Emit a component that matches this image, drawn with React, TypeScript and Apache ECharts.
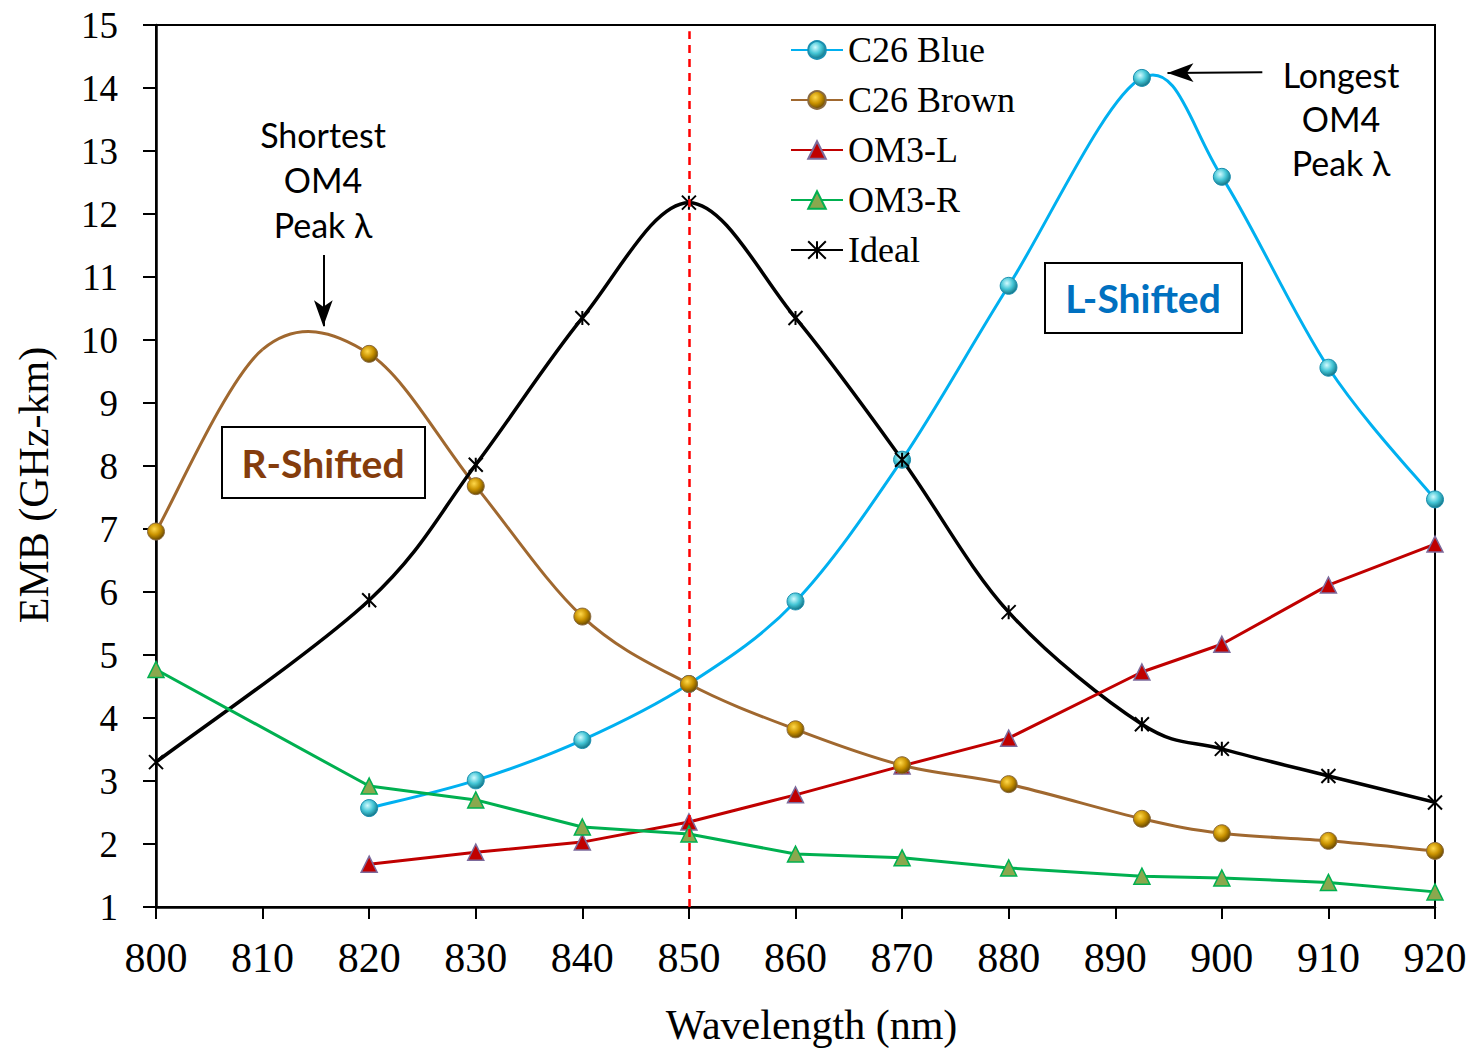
import React, { useEffect, useRef } from "react";
import * as echarts from "echarts";

// ---- data ----
const wavelengths = [800, 820, 830, 840, 850, 860, 870, 880, 892.5, 900, 910, 920];
const c26Blue = [null, 2.57, 3.01, 3.65, 4.54, 5.85, 8.1, 10.86, 14.16, 12.59, 9.56, 7.47];
const c26Brown = [6.96, 9.78, 7.68, 5.61, 4.54, 3.82, 3.25, 2.95, 2.4, 2.17, 2.05, 1.89];
const brownHiddenPoint = [810, 9.85];
const om3L = [null, 1.68, 1.87, 2.03, 2.35, 2.78, 3.24, 3.68, 4.73, 5.17, 6.11, 6.76];
const om3R = [4.77, 2.92, 2.7, 2.27, 2.16, 1.84, 1.78, 1.62, 1.49, 1.46, 1.39, 1.24];
const ideal = [3.3, 5.87, 8.02, 10.35, 12.18, 10.35, 8.1, 5.68, 3.9, 3.51, 3.08, 2.66];
const seriesNames = ["C26 Blue", "C26 Brown", "OM3-L", "OM3-R", "Ideal"];
const referenceWavelength = 850;
const shortestArrow = [[815.7, 11.35], [815.7, 10.22]];
const longestArrow = [[903.8, 14.25], [894.9, 14.24]];

const pairs = (vals: (number | null)[]) =>
  wavelengths.map((w, i) => [w, vals[i]]).filter((p) => p[1] !== null) as number[][];

const serif = "Liberation Serif";
const sans = "Lato";

const blueColor = "#00B0F0";
const brownColor = "#A0682F";
const idealColor = "#000000";

const sphere = (light: string, mid: string, dark: string) => ({
  type: "radial",
  x: 0.4,
  y: 0.35,
  r: 0.7,
  colorStops: [
    { offset: 0, color: light },
    { offset: 0.5, color: mid },
    { offset: 1, color: dark },
  ],
});

// Spreadsheet-style smoothed curve (Catmull-Rom as cubic Beziers) drawn through
// the data via the chart's own coordinate system.
const smoothCurve = (id: string, points: number[][], color: string, width: number, z: number) => ({
  id,
  type: "custom",
  silent: true,
  z,
  clip: true,
  data: points,
  renderItem: (params: any, api: any) => {
    if (params.dataIndex !== 0) return null;
    const pts = points.map((p) => api.coord(p));
    const n = pts.length;
    const children: any[] = [];
    for (let i = 0; i < n - 1; i++) {
      const p0 = pts[Math.max(i - 1, 0)];
      const p1 = pts[i];
      const p2 = pts[i + 1];
      const p3 = pts[Math.min(i + 2, n - 1)];
      children.push({
        type: "bezierCurve",
        shape: {
          x1: p1[0],
          y1: p1[1],
          x2: p2[0],
          y2: p2[1],
          cpx1: p1[0] + (p2[0] - p0[0]) / 6,
          cpy1: p1[1] + (p2[1] - p0[1]) / 6,
          cpx2: p2[0] - (p3[0] - p1[0]) / 6,
          cpy2: p2[1] - (p3[1] - p1[1]) / 6,
        },
        style: { stroke: color, lineWidth: width, fill: null },
      });
    }
    return { type: "group", children };
  },
});

export default function App() {
  const ref = useRef<HTMLDivElement>(null);
  useEffect(() => {
    if (!ref.current) return;
    const chart = echarts.init(ref.current, undefined, { renderer: "svg" });

    const bluePts = pairs(c26Blue);
    const brownPts = pairs(c26Brown);
    const brownCurvePts = [brownPts[0], brownHiddenPoint, ...brownPts.slice(1)];
    const idealPts = pairs(ideal);

    const option: any = {
      animation: false,
      backgroundColor: "#fff",
      grid: {
        left: 156,
        right: 38,
        top: 25,
        bottom: 143,
        show: true,
        borderColor: "#000",
        borderWidth: 2,
      },
      legend: {
        orient: "vertical",
        left: 785,
        top: 27,
        itemWidth: 52,
        itemHeight: 22,
        itemGap: 14,
        data: seriesNames,
        selectedMode: false,
        lineStyle: { opacity: 1 },
        textStyle: {
          fontFamily: serif,
          fontSize: 36,
          lineHeight: 36,
          color: "#000",
        },
      },
      xAxis: {
        type: "value",
        min: 800,
        max: 920,
        interval: 10,
        name: "Wavelength (nm)",
        nameLocation: "middle",
        nameGap: 97,
        nameTextStyle: {
          fontFamily: serif,
          fontSize: 42,
          color: "#000",
          padding: [0, 0, 0, 32],
        },
        axisLine: { lineStyle: { color: "#000", width: 2.5 } },
        axisTick: { show: true, length: 12, lineStyle: { color: "#000", width: 2 } },
        axisLabel: { fontFamily: serif, fontSize: 42, color: "#000", margin: 30 },
        splitLine: { show: false },
      },
      yAxis: {
        type: "value",
        min: 1,
        max: 15,
        interval: 1,
        name: "EMB (GHz-km)",
        nameLocation: "middle",
        nameGap: 101,
        nameTextStyle: {
          fontFamily: serif,
          fontSize: 42,
          color: "#000",
          padding: [0, 38, 0, 0],
        },
        axisLine: { lineStyle: { color: "#000", width: 2.5 } },
        axisTick: { show: true, length: 13, lineStyle: { color: "#000", width: 2 } },
        axisLabel: { fontFamily: serif, fontSize: 37, color: "#000", margin: 38 },
        splitLine: { show: false },
      },
      series: [
        smoothCurve("blueCurve", bluePts, blueColor, 3, 2),
        smoothCurve("brownCurve", brownCurvePts, brownColor, 3, 2),
        smoothCurve("idealCurve", idealPts, idealColor, 3.5, 2),
        {
          name: seriesNames[0],
          type: "line",
          data: bluePts,
          symbol: "circle",
          symbolSize: 17,
          silent: true,
          lineStyle: { color: blueColor, width: 3, opacity: 0 },
          itemStyle: {
            color: sphere("#D2FBFF", "#45C6D6", "#0C6A7C"),
            borderColor: "#1B8FB0",
            borderWidth: 1,
          },
          z: 4,
        },
        {
          name: seriesNames[1],
          type: "line",
          data: brownPts,
          symbol: "circle",
          symbolSize: 17,
          silent: true,
          lineStyle: { color: brownColor, width: 3, opacity: 0 },
          itemStyle: {
            color: sphere("#FFD84A", "#C99200", "#5E4000"),
            borderColor: "#8A6A40",
            borderWidth: 1,
          },
          z: 5,
          markLine: {
            silent: true,
            symbol: ["none", "arrow"],
            symbolSize: [14, 26],
            label: { show: false },
            lineStyle: { color: "#000", width: 2, type: "solid", opacity: 1 },
            data: [
              [{ coord: shortestArrow[0] }, { coord: shortestArrow[1] }],
              [{ coord: longestArrow[0] }, { coord: longestArrow[1] }],
            ],
          },
        },
        {
          name: seriesNames[2],
          type: "line",
          data: pairs(om3L),
          smooth: false,
          symbol: "triangle",
          symbolSize: 16,
          silent: true,
          lineStyle: { color: "#C00000", width: 3 },
          itemStyle: { color: "#C00000", borderColor: "#7C6A9C", borderWidth: 1.5 },
          z: 3,
        },
        {
          name: seriesNames[3],
          type: "line",
          data: pairs(om3R),
          smooth: false,
          symbol: "triangle",
          symbolSize: 16,
          silent: true,
          lineStyle: { color: "#00B050", width: 3 },
          itemStyle: { color: "#8AA84E", borderColor: "#00B050", borderWidth: 1.5 },
          z: 3,
        },
        {
          name: seriesNames[4],
          type: "line",
          data: idealPts,
          symbol: "path://M0 0L20 20M20 0L0 20M10 0L10 20",
          symbolSize: 14,
          silent: true,
          lineStyle: { color: idealColor, width: 3.5, opacity: 0 },
          itemStyle: { color: "#000", borderColor: "#000", borderWidth: 2 },
          z: 4,
          markLine: {
            silent: true,
            symbol: ["none", "none"],
            label: { show: false },
            lineStyle: { color: "#FF0000", width: 2.5, type: [8, 6], opacity: 1 },
            data: [
              [
                { coord: [referenceWavelength, 1] },
                { coord: [referenceWavelength, 14.9] },
              ],
            ],
          },
        },
      ],
      graphic: [
        {
          type: "text",
          x: 323,
          y: 112,
          style: {
            text: "Shortest\nOM4\nPeak λ",
            align: "center",
            verticalAlign: "top",
            fontFamily: sans,
            fontSize: 34,
            lineHeight: 45,
            fill: "#000",
          },
        },
        {
          type: "text",
          x: 1341,
          y: 52,
          style: {
            text: "Longest\nOM4\nPeak λ",
            align: "center",
            verticalAlign: "top",
            fontFamily: sans,
            fontSize: 34,
            lineHeight: 44,
            fill: "#000",
          },
        },
        {
          type: "rect",
          shape: { x: 222, y: 427, width: 203, height: 71 },
          style: { fill: "none", stroke: "#000", lineWidth: 2 },
        },
        {
          type: "text",
          x: 323,
          y: 463,
          style: {
            text: "R-Shifted",
            align: "center",
            verticalAlign: "middle",
            fontFamily: sans,
            fontWeight: "bold",
            fontSize: 39,
            fill: "#843C0C",
          },
        },
        {
          type: "rect",
          shape: { x: 1045, y: 263, width: 197, height: 70 },
          style: { fill: "none", stroke: "#000", lineWidth: 2 },
        },
        {
          type: "text",
          x: 1143,
          y: 298,
          style: {
            text: "L-Shifted",
            align: "center",
            verticalAlign: "middle",
            fontFamily: sans,
            fontWeight: "bold",
            fontSize: 39,
            fill: "#0070C0",
          },
        },
      ],
    };

    chart.setOption(option);
    return () => chart.dispose();
  }, []);

  return (
    <div
      ref={ref}
      style={{
        position: "fixed",
        left: 0,
        top: 0,
        width: 1473,
        height: 1051,
        background: "#fff",
      }}
    />
  );
}
